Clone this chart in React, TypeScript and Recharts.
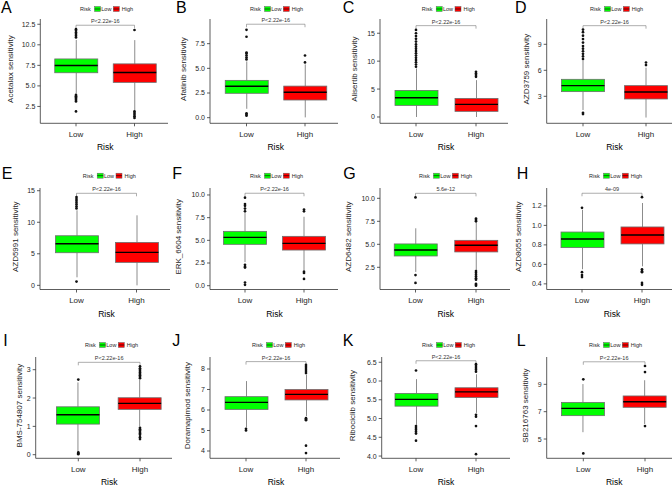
import React from 'react';
import { ComposedChart, Bar, Scatter, XAxis, YAxis, ReferenceLine, Label } from 'recharts';

const FONT = '"Liberation Sans", Arial, Helvetica, sans-serif';

// ---------- data ----------
const panelLetters = ['A', 'B', 'C', 'D', 'E', 'F', 'G', 'H', 'I', 'J', 'K', 'L'];
const drugNames = ['Acetalax', 'Afatinib', 'Alisertib', 'AZD3759', 'AZD5991', 'ERK_6604', 'AZD6482', 'AZD8055', 'BMS-754807', 'Doramapimod', 'Ribociclib', 'SB216763'];
const riskGroups = ['Low', 'High'];
const xAxisTitle = 'Risk';
const pLabels = ['P<2.22e-16', 'P<2.22e-16', 'P<2.22e-16', 'P<2.22e-16', 'P<2.22e-16', 'P<2.22e-16', '5.6e-12', '4e-09', 'P<2.22e-16', 'P<2.22e-16', 'P<2.22e-16', 'P<2.22e-16'];

// [whiskerLow, q1, median, q3, whiskerHigh]
const lowBox = [
  [4.1, 6.6, 7.48, 8.28, 10.6],
  [0.9, 2.47, 3.18, 3.78, 5.7],
  [0, 2.08, 3.45, 4.76, 8.7],
  [1.42, 3.54, 4.23, 4.96, 7.1],
  [1.27, 5.17, 6.6, 7.86, 11.9],
  [2.6, 4.56, 5.33, 5.99, 8.0],
  [2.0, 3.73, 4.38, 5.04, 6.74],
  [0.55, 0.772, 0.861, 0.932, 1.16],
  [0.12, 1.08, 1.41, 1.69, 2.55],
  [5.15, 6.03, 6.37, 6.65, 7.41],
  [4.83, 5.33, 5.51, 5.67, 6.05],
  [5.5, 6.71, 7.24, 7.68, 9.02],
];
const highBox = [
  [2.06, 5.43, 6.63, 7.68, 10.57],
  [0.03, 1.79, 2.57, 3.2, 5.4],
  [0, 1.01, 2.26, 3.33, 6.6],
  [0.55, 2.69, 3.5, 4.23, 6.3],
  [0, 3.64, 5.22, 6.8, 11.1],
  [1.73, 3.93, 4.67, 5.44, 7.6],
  [2.2, 4.17, 4.89, 5.43, 7.39],
  [0.58, 0.81, 0.902, 0.984, 1.23],
  [1.0, 1.6, 1.81, 2.01, 2.65],
  [5.7, 6.49, 6.76, 7.0, 7.72],
  [5.15, 5.56, 5.71, 5.82, 6.18],
  [6.1, 7.32, 7.73, 8.15, 9.3],
];
const lowOutliers = [
  [10.9, 11.1, 11.3, 11.5, 11.7, 11.9, 3.9, 3.75, 3.6, 3.45, 3.3, 3.1, 1.9],
  [5.9, 6.1, 6.3, 6.5, 6.6, 8.2, 8.9, 0.45, 0.3, 0.2],
  [9.0, 9.4, 9.8, 10.2, 10.6, 11.0, 11.4, 11.8, 12.2, 12.6, 13.0, 13.5, 14.0, 14.5, 15.0, 15.6],
  [7.3, 7.6, 7.9, 8.2, 8.5, 8.8, 9.2, 9.6, 10.0, 10.4, 10.7, 1.1, 0.95],
  [12.2, 12.5, 12.8, 13.1, 13.4, 13.7, 14.0, 0.6],
  [8.2, 8.5, 8.8, 9.0, 9.7, 2.3, 2.1, 2.0, 0.35, 0.1],
  [10.1, 1.65, 0.8],
  [1.18, 0.52, 0.49, 0.47],
  [2.65, 0.08, 0.05, 0.02],
  [5.08, 5.0],
  [6.28, 4.8, 4.75, 4.7, 4.65, 4.6, 4.41],
  [9.37, 3.95],
];
const highOutliers = [
  [11.8, 1.9, 1.7, 1.5, 1.3, 1.1],
  [5.6, 6.3],
  [7.2, 7.5, 7.8, 8.1],
  [6.6, 6.9],
  [],
  [8.2, 8.4, 1.55, 1.4, 0.75],
  [7.5, 7.65, 7.8, 2.1, 1.9, 1.7, 1.5, 1.3, 1.15, 0.7, 0.6, 0.5],
  [1.29, 0.55, 0.53, 0.52, 0.41, 0.39],
  [2.7, 2.75, 2.8, 2.85, 2.9, 2.95, 3.0, 3.05, 3.12, 0.95, 0.9, 0.85, 0.8, 0.75, 0.7, 0.62, 0.55],
  [7.8, 7.9, 8.0, 8.1, 8.2, 5.6, 5.55, 5.5, 4.26, 3.9],
  [6.25, 6.3, 6.35, 6.4, 6.45, 5.1, 5.05, 4.8, 4.05],
  [9.9, 10.34, 5.95],
];
const bracketValues = [12.38, 9.47, 16.36, 11.15, 14.59, 10.19, 10.54, 1.33, 3.26, 8.36, 6.54, 10.65];
const yDomains = [
  [0.45, 13.14], [-0.57, 10.0], [-1.13, 17.55], [-0.115, 11.92],
  [-0.66, 15.43], [-0.42, 10.77], [0.087, 11.12], [0.342, 1.384],
  [-0.127, 3.448], [3.644, 8.585], [3.94, 6.64], [3.59, 11.0],
];
const yTicks = [
  [2.5, 5, 7.5, 10, 12.5], [0, 2.5, 5, 7.5], [0, 5, 10, 15], [3, 6, 9],
  [0, 5, 10, 15], [0, 2.5, 5, 7.5, 10], [2.5, 5, 7.5, 10], [0.4, 0.6, 0.8, 1.0, 1.2],
  [0, 1, 2, 3], [4, 5, 6, 7, 8], [4, 4.5, 5, 5.5, 6, 6.5], [5, 7, 9],
];
const tickDecimals = [1, 1, 0, 0, 0, 1, 1, 1, 0, 0, 1, 0];

// ---------- layout / style ----------
const riskColors = ['#00FF00', '#FF0000'];
const colX = [0, 168, 337, 506];
const rowY = [0, 160, 320];
const rowH = [160, 160, 168];
const plotTop = [19, 188, 357];
const plotBottom = [123.3, 289.5, 458.3];
const axisXs = [40.3, 210, 380, 546.7, 40, 210, 380, 546.7, 35.7, 210, 381.7, 546.7];
const centers1 = [76, 246.5, 416, 583, 76.5, 245, 415.5, 582, 78.3, 246, 416, 583.3];
const centers2 = [134.5, 305, 476, 646, 136.5, 304, 476, 642, 140, 306, 476, 645];
const plotRights = [168, 338, 508, 680, 170, 338, 510, 676, 172, 340, 510, 680];
const yTitleX = [10.5, 183.5, 355, 526.5, 15, 178, 348, 518, 20, 188, 353, 526];
const xTitleY = [147, 314, 482];
const legendLeft = [80, 250, 421.7, 590, 82.7, 250, 419, 589, 85, 252, 422, 589];
const legendY = [9, 175.7, 345];
const letterX = [1, 176, 342.7, 515, 1.7, 172.3, 343.3, 516.7, 3.3, 172.3, 342.7, 516.7];
const letterBase = [13.3, 178.5, 346];
const X_AXIS_H = 20;
const Y_AXIS_W = 20;
const BOX_W = 43;
const LINE_GRAY = '#6e6e6e';
const TEXT = '#262626';

function BoxShape(props: any) {
  const { x, y, width, height, payload } = props;
  if (!payload || x == null) return null;
  const s: number[] = payload.stats;
  const top = Math.min(y, y + height);
  const bot = Math.max(y, y + height);
  const span = s[4] - s[0];
  const py = (v: number) => bot - ((v - s[0]) / span) * (bot - top);
  const cx = x + width / 2;
  const fill = riskColors[riskGroups.indexOf(payload.risk)];
  return (
    <g>
      <line x1={cx} x2={cx} y1={py(s[4])} y2={py(s[3])} stroke={LINE_GRAY} strokeWidth={0.8} />
      <line x1={cx} x2={cx} y1={py(s[1])} y2={py(s[0])} stroke={LINE_GRAY} strokeWidth={0.8} />
      <rect x={x} y={py(s[3])} width={width} height={py(s[1]) - py(s[3])} fill={fill} stroke={LINE_GRAY} strokeWidth={0.8} />
      <line x1={x} x2={x + width} y1={py(s[2])} y2={py(s[2])} stroke="#000" strokeWidth={1.4} />
    </g>
  );
}

function OutlierDot(props: any) {
  const { cx, cy } = props;
  if (cx == null || cy == null) return null;
  return <circle cx={cx} cy={cy} r={1.35} fill="#111" />;
}

function makeBracket(label: string) {
  return (p: any) => {
    const { x1, y1, x2 } = p;
    if (x1 == null) return null;
    return (
      <g>
        <path d={`M${x1},${y1 + 3}V${y1}H${x2}V${y1 + 3}`} stroke="#777" strokeWidth={0.6} fill="none" />
        <text x={(x1 + x2) / 2} y={y1 - 2} fontSize={5.5} textAnchor="middle" fill="#333" fontFamily={FONT}>{label}</text>
      </g>
    );
  };
}

function Panel({ i }: { i: number }) {
  const row = Math.floor(i / 4);
  const col = i % 4;
  const left = colX[col];
  const top = rowY[row];
  const pr = plotRights[i];
  const w = pr - left + 4;
  const h = rowH[row];
  const pt = plotTop[row];
  const pb = plotBottom[row];
  const ax = axisXs[i];
  const c1 = centers1[i];
  const c2 = centers2[i];
  const band = c2 - c1;
  const padL = c1 - ax - band / 2;
  const padR = pr - c2 - band / 2;
  const margin = { top: pt - top, bottom: top + h - pb - X_AXIS_H, left: ax - left - Y_AXIS_W, right: 4 };
  const data = riskGroups.map((g, k) => {
    const s = k === 0 ? lowBox[i] : highBox[i];
    return { risk: g, range: [s[0], s[4]], stats: s };
  });
  const outliers = [
    ...lowOutliers[i].map((v) => ({ risk: 'Low', v })),
    ...highOutliers[i].map((v) => ({ risk: 'High', v })),
  ];
  const dec = tickDecimals[i];
  const yTitleCx = yTitleX[i] - left;
  const yTitleCy = (pt + pb) / 2 - 2 - top;
  const title = drugNames[i] + ' sensitivity';
  return (
    <div style={{ position: 'absolute', left, top, width: w, height: h }}>
      <ComposedChart width={w} height={h} data={data} margin={margin}>
        <XAxis
          dataKey="risk"
          type="category"
          allowDuplicatedCategory={false}
          padding={{ left: padL, right: padR }}
          height={X_AXIS_H}
          tickSize={3}
          tickMargin={5}
          axisLine={{ stroke: '#333', strokeWidth: 0.8 }}
          tickLine={{ stroke: '#333', strokeWidth: 0.8 }}
          tick={{ fontSize: 8, fill: TEXT, fontFamily: FONT }}
        />
        <YAxis
          type="number"
          domain={yDomains[i]}
          ticks={yTicks[i]}
          allowDataOverflow
          width={Y_AXIS_W}
          tickSize={3}
          tickMargin={2}
          interval={0}
          tickFormatter={(v: number) => v.toFixed(dec)}
          axisLine={{ stroke: '#333', strokeWidth: 0.8 }}
          tickLine={{ stroke: '#333', strokeWidth: 0.8 }}
          tick={{ fontSize: 7, fill: TEXT, fontFamily: FONT }}
        >
          <Label
            content={() => (
              <text
                x={yTitleCx}
                y={yTitleCy}
                transform={`rotate(-90 ${yTitleCx} ${yTitleCy})`}
                textAnchor="middle"
                dominantBaseline="central"
                fontSize={8}
                fill={TEXT}
                fontFamily={FONT}
              >
                {title}
              </text>
            )}
          />
        </YAxis>
        <Bar dataKey="range" barSize={BOX_W} shape={BoxShape} isAnimationActive={false} />
        <Scatter data={outliers} dataKey="v" shape={OutlierDot} isAnimationActive={false} />
        <ReferenceLine
          segment={[{ x: 'Low', y: bracketValues[i] }, { x: 'High', y: bracketValues[i] }]}
          ifOverflow="visible"
          shape={makeBracket(pLabels[i])}
        />
      </ComposedChart>
    </div>
  );
}

function LegendGroup({ x, y }: { x: number; y: number }) {
  return (
    <g transform={`translate(${x},${y})`} fontSize={5.5} fill={TEXT} fontFamily={FONT}>
      <text x={0} y={2}>{xAxisTitle}</text>
      <rect x={14.5} y={-2.5} width={6} height={5} fill={riskColors[0]} stroke="#666" strokeWidth={0.5} />
      <line x1={14.5} x2={20.5} y1={0} y2={0} stroke="#000" strokeWidth={0.6} />
      <text x={21.3} y={2}>{riskGroups[0]}</text>
      <rect x={33.3} y={-2.5} width={6} height={5} fill={riskColors[1]} stroke="#666" strokeWidth={0.5} />
      <line x1={33.3} x2={39.3} y1={0} y2={0} stroke="#000" strokeWidth={0.6} />
      <text x={41.8} y={2}>{riskGroups[1]}</text>
    </g>
  );
}

export default function App() {
  return (
    <div style={{ position: 'absolute', left: 0, top: 0, width: 672, height: 488, overflow: 'hidden', background: '#fff', fontFamily: FONT }}>
      {panelLetters.map((_, i) => (
        <Panel key={i} i={i} />
      ))}
      <svg width={672} height={488} style={{ position: 'absolute', left: 0, top: 0, pointerEvents: 'none' }}>
        {panelLetters.map((l, i) => {
          const row = Math.floor(i / 4);
          const xc = (centers1[i] + centers2[i]) / 2;
          return (
            <g key={l}>
              <text x={letterX[i]} y={letterBase[row]} fontSize={16} fill="#000" fontFamily={FONT}>{l}</text>
              <LegendGroup x={legendLeft[i]} y={legendY[row]} />
              <text x={xc} y={xTitleY[row] + 3} textAnchor="middle" fontSize={8.5} fill="#000" fontFamily={FONT}>{xAxisTitle}</text>
            </g>
          );
        })}
      </svg>
    </div>
  );
}
